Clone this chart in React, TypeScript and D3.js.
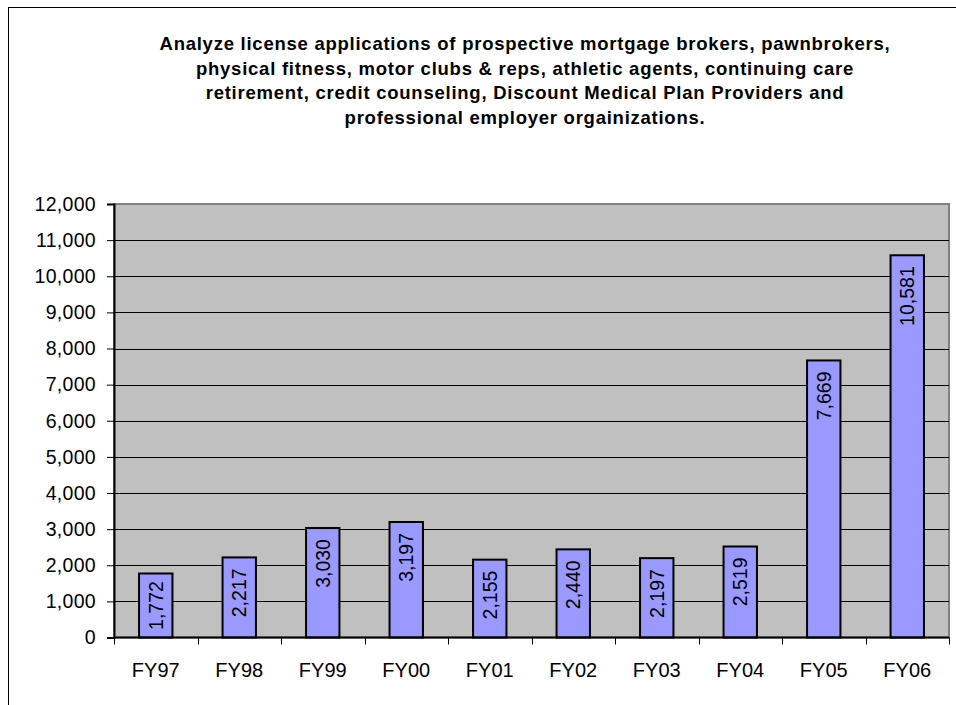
import { useEffect, useRef } from 'react';
import * as d3 from 'd3';

// chart data
const years = ['FY97', 'FY98', 'FY99', 'FY00', 'FY01', 'FY02', 'FY03', 'FY04', 'FY05', 'FY06'];
const applications = [1772, 2217, 3030, 3197, 2155, 2440, 2197, 2519, 7669, 10581];
const yTicks = [0, 1000, 2000, 3000, 4000, 5000, 6000, 7000, 8000, 9000, 10000, 11000, 12000];
const titleLines = [
  'Analyze license applications of prospective mortgage brokers, pawnbrokers,',
  'physical fitness, motor clubs & reps, athletic agents, continuing care',
  'retirement, credit counseling, Discount Medical Plan Providers and',
  'professional employer orgainizations.',
];

export default function App() {
  const svgRef = useRef<SVGSVGElement | null>(null);

  useEffect(() => {
    if (!svgRef.current) return;
    const svg = d3.select(svgRef.current);
    svg.selectAll('*').remove();

    const W = 956;
    const H = 705;
    const plot = { left: 114, right: 949, top: 204, bottom: 637.5 };
    const font = 'Arial, "Liberation Sans", sans-serif';
    const fmt = d3.format(',');

    svg.append('rect').attr('width', W).attr('height', H).attr('fill', '#fff');

    // outer chart border (runs off the right and bottom edges)
    svg.append('rect')
      .attr('x', 8.5).attr('y', 7.5)
      .attr('width', W + 20).attr('height', H + 20)
      .attr('fill', 'none')
      .attr('stroke', '#000')
      .attr('stroke-width', 1);

    // title
    const title = svg.append('text')
      .attr('text-anchor', 'middle')
      .style('font-family', font)
      .style('font-weight', 'bold')
      .style('font-size', '18.5px')
      .style('letter-spacing', '0.75px');
    titleLines.forEach((line, i) => {
      title.append('tspan').attr('x', 525).attr('y', 50 + i * 24.7).text(line);
    });

    const x = d3.scaleBand()
      .domain(years)
      .range([plot.left, plot.right])
      .paddingInner(0.6)
      .paddingOuter(0.3);

    const y = d3.scaleLinear()
      .domain([0, 12000])
      .range([plot.bottom, plot.top]);

    // plot area
    svg.append('rect')
      .attr('x', plot.left).attr('y', plot.top)
      .attr('width', plot.right - plot.left)
      .attr('height', plot.bottom - plot.top)
      .attr('fill', '#c0c0c0')
      .attr('stroke', '#808080')
      .attr('stroke-width', 2);

    // gridlines
    svg.append('g')
      .selectAll('line')
      .data(yTicks.filter(d => d > 0 && d < 12000))
      .enter()
      .append('line')
      .attr('x1', plot.left).attr('x2', plot.right)
      .attr('y1', d => Math.round(y(d)) + 0.5)
      .attr('y2', d => Math.round(y(d)) + 0.5)
      .attr('stroke', '#000')
      .attr('stroke-width', 1);

    // bars
    svg.append('g')
      .selectAll('rect')
      .data(applications)
      .enter()
      .append('rect')
      .attr('x', (d, i) => x(years[i]) as number)
      .attr('y', d => y(d))
      .attr('width', x.bandwidth())
      .attr('height', d => plot.bottom - y(d))
      .attr('fill', '#9999ff')
      .attr('stroke', '#000')
      .attr('stroke-width', 2);

    // value labels, rotated, near the top inside the bar
    const labelSize = 19.5;
    svg.append('g')
      .selectAll('text')
      .data(applications)
      .enter()
      .append('text')
      .attr('transform', (d, i) => {
        const cx = (x(years[i]) as number) + x.bandwidth() / 2;
        const h = plot.bottom - y(d);
        const len = fmt(d).length * labelSize * 0.5;
        const off = Math.min(11, (h - len) / 2);
        return `translate(${cx},${y(d) + off}) rotate(-90)`;
      })
      .attr('text-anchor', 'end')
      .attr('dy', '0.35em')
      .style('font-family', font)
      .style('font-size', `${labelSize}px`)
      .text(d => fmt(d));

    // y axis
    const yAxis = svg.append('g')
      .attr('transform', `translate(${plot.left},0)`)
      .call(d3.axisLeft(y).tickValues(yTicks).tickSize(7).tickPadding(11).tickFormat(d => fmt(d as number)));
    yAxis.select('.domain').attr('stroke', '#000').attr('stroke-width', 2);
    yAxis.selectAll('.tick line').attr('stroke', '#000');
    yAxis.selectAll('text')
      .style('font-family', font)
      .style('font-size', '19.5px')
      .style('letter-spacing', '0.3px')
      .attr('fill', '#000');

    // x axis with ticks at category boundaries
    const xAxisG = svg.append('g');
    xAxisG.append('line')
      .attr('x1', plot.left).attr('x2', plot.right)
      .attr('y1', plot.bottom).attr('y2', plot.bottom)
      .attr('stroke', '#000')
      .attr('stroke-width', 2);
    const step = x.step();
    xAxisG.selectAll('.xtick')
      .data(d3.range(years.length + 1))
      .enter()
      .append('line')
      .attr('x1', i => Math.round(plot.left + i * step) + 0.5)
      .attr('x2', i => Math.round(plot.left + i * step) + 0.5)
      .attr('y1', plot.bottom)
      .attr('y2', plot.bottom + 7)
      .attr('stroke', '#000');
    xAxisG.selectAll('text')
      .data(years)
      .enter()
      .append('text')
      .attr('x', d => (x(d) as number) + x.bandwidth() / 2)
      .attr('y', 677)
      .attr('text-anchor', 'middle')
      .style('font-family', font)
      .style('font-size', '20px')
      .text(d => d);
  }, []);

  return (
    <div style={{ position: 'absolute', left: 0, top: 0 }}>
      <svg ref={svgRef} width={956} height={705} style={{ display: 'block' }} />
    </div>
  );
}
